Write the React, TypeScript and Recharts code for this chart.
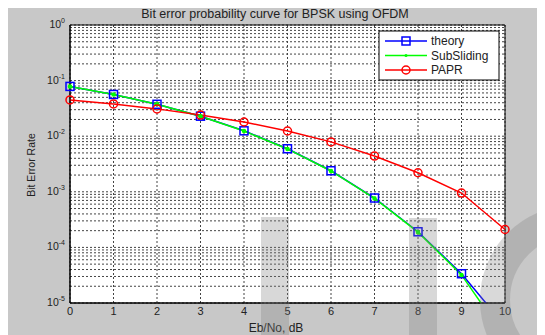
import React from 'react'
import { LineChart, Line, XAxis, YAxis, CartesianGrid, ReferenceArea } from 'recharts'

const ebNo = [0, 1, 2, 3, 4, 5, 6, 7, 8, 9, 10]
const theory = [0.0786, 0.0563, 0.0375, 0.0229, 0.0125, 0.00595, 0.00239, 0.000773, 0.000191, 0.0000336, 0.00000387]
const subSliding = [0.0786, 0.0562, 0.0374, 0.0228, 0.0124, 0.0059, 0.00237, 0.00076, 0.000188, 0.000032, 0.0000024]
const papr = [0.045, 0.038, 0.031, 0.024, 0.018, 0.0124, 0.0079, 0.0044, 0.0022, 0.00095, 0.00021]

const decades = [1e-5, 1e-4, 1e-3, 1e-2, 1e-1, 1]
const minorSteps = [2, 3, 4, 5, 6, 7, 8, 9]
const xTicks = [0, 1, 2, 3, 4, 5, 6, 7, 8, 9, 10]

const yTicks: number[] = []
decades.forEach((d, i) => {
  yTicks.push(d)
  if (i < decades.length - 1) minorSteps.forEach((m) => yTicks.push(d * m))
})

const data = ebNo.map((x, i) => ({
  x,
  theory: theory[i],
  subSliding: subSliding[i],
  papr: papr[i],
}))

const FONT = '"Liberation Sans", Arial, sans-serif'
const W = 537
const H = 327

function YTick(props: any) {
  const { x, y, payload } = props
  const e = Math.log10(payload.value)
  if (Math.abs(e - Math.round(e)) > 1e-6) return <g />
  return (
    <text x={x - 5} y={y + 3} textAnchor="end" fontSize={10.5} fill="#222" fontFamily={FONT}>
      10<tspan dy={-5} fontSize={7}>{Math.round(e)}</tspan>
    </text>
  )
}

function XTick(props: any) {
  const { x, y, payload } = props
  return (
    <text x={x} y={y + 12} textAnchor="middle" fontSize={11} fill="#222" fontFamily={FONT}>
      {payload.value}
    </text>
  )
}

function SquareDot(props: any) {
  const { cx, cy, index } = props
  if (cx == null || cy == null) return <g key={index} />
  return <rect key={index} x={cx - 4} y={cy - 4} width={8} height={8} fill="none" stroke="#0000ff" strokeWidth={1.5} />
}

const legendItems = [
  { name: 'theory', color: '#0000ff', marker: 'square' },
  { name: 'SubSliding', color: '#00ff00', marker: 'dot' },
  { name: 'PAPR', color: '#ff0000', marker: 'circle' },
]

export default function App() {
  return (
    <div style={{ position: 'relative', width: W, height: H, background: '#c8c8c8' }}>
      <LineChart width={W} height={H} data={data} margin={{ top: 17, right: 40, left: 0, bottom: 0 }}>
        <CartesianGrid fill="#fff" stroke="#444" strokeDasharray="2 2" />
        <XAxis
          dataKey="x"
          type="number"
          domain={[0, 10]}
          ticks={xTicks}
          height={32}
          tickSize={0}
          tickMargin={0}
          tickLine={false}
          axisLine={{ stroke: '#000' }}
          tick={<XTick />}
        />
        <YAxis
          type="number"
          scale="log"
          domain={[1e-5, 1]}
          allowDataOverflow
          ticks={yTicks}
          interval={0}
          width={62}
          tickSize={0}
          tickMargin={0}
          tickLine={false}
          axisLine={{ stroke: '#000' }}
          tick={<YTick />}
        />
        <ReferenceArea x1={0} x2={10} y1={1e-5} y2={1} fill="none" stroke="#000" strokeWidth={1} />
        <Line
          dataKey="theory"
          stroke="#0000ff"
          strokeWidth={1.5}
          dot={<SquareDot />}
          isAnimationActive={false}
        />
        <Line
          dataKey="subSliding"
          stroke="#00ff00"
          strokeWidth={1.5}
          dot={{ r: 1.5, fill: '#00ff00', stroke: '#00ff00' }}
          isAnimationActive={false}
        />
        <Line
          dataKey="papr"
          stroke="#ff0000"
          strokeWidth={1.5}
          dot={{ r: 4, fill: 'none', stroke: '#ff0000', strokeWidth: 1.5 }}
          isAnimationActive={false}
        />
      </LineChart>
      <svg
        width={W}
        height={H}
        style={{ position: 'absolute', left: 0, top: 0, pointerEvents: 'none' }}
        fontFamily={FONT}
      >
        <text x={267} y={10} textAnchor="middle" fontSize={12.5} fill="#222">
          Bit error probability curve for BPSK using OFDM
        </text>
        <text x={24} y={157} textAnchor="middle" fontSize={10.5} fill="#222" transform="rotate(-90 24 157)" dy={3}>
          Bit Error Rate
        </text>
        <text x={268} y={324} textAnchor="middle" fontSize={12} fill="#222">
          Eb/No, dB
        </text>
        <g transform="translate(371,23)">
          <rect x={0} y={0} width={120} height={49} fill="#fff" stroke="#000" strokeWidth={1} />
          {legendItems.map((it, i) => {
            const cy = 10 + i * 14.5
            return (
              <g key={it.name}>
                <line x1={6} x2={48} y1={cy} y2={cy} stroke={it.color} strokeWidth={1.5} />
                {it.marker === 'square' && (
                  <rect x={23} y={cy - 4} width={8} height={8} fill="none" stroke={it.color} strokeWidth={1.5} />
                )}
                {it.marker === 'dot' && <circle cx={27} cy={cy} r={1.5} fill={it.color} />}
                {it.marker === 'circle' && (
                  <circle cx={27} cy={cy} r={4} fill="none" stroke={it.color} strokeWidth={1.5} />
                )}
                <text x={52} y={cy + 4} fontSize={12} fill="#222">
                  {it.name}
                </text>
              </g>
            )
          })}
        </g>
        <g fill="#808080" opacity={0.3}>
          <rect x={253} y={209} width={28} height={118} />
          <rect x={401} y={210} width={28} height={117} />
        </g>
        <circle cx={567} cy={292} r={80} fill="none" stroke="#808080" strokeOpacity={0.3} strokeWidth={30} />
      </svg>
    </div>
  )
}
